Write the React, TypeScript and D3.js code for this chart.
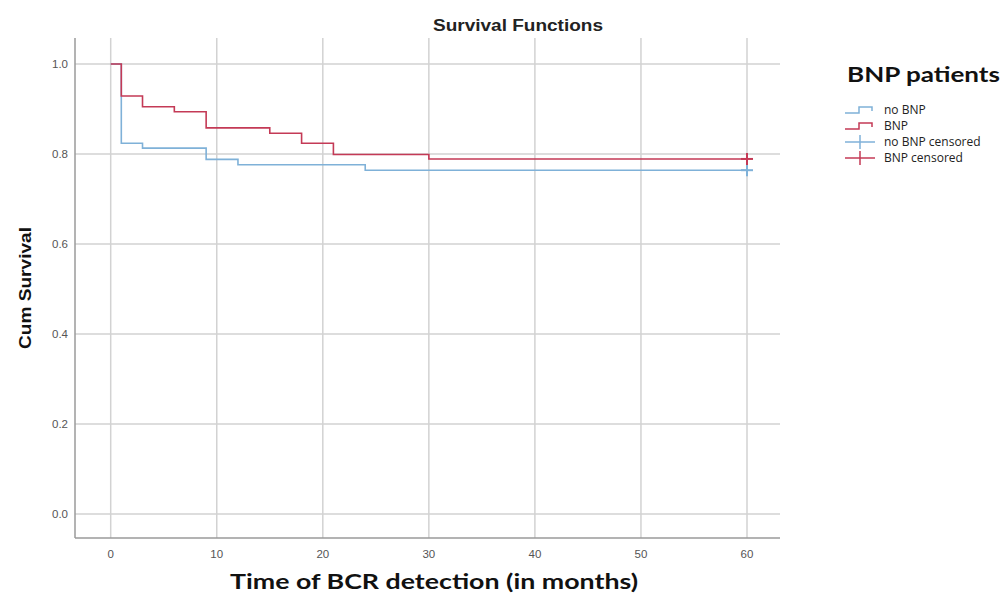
import React from "react";
import * as d3 from "d3";

// survival step data
const bnpTimes = [0, 1, 3, 6, 9, 15, 18, 21, 30, 60];
const bnpSurv = [1.0, 0.929, 0.905, 0.894, 0.858, 0.846, 0.824, 0.799, 0.789, 0.789];
const noBnpTimes = [0, 1, 3, 9, 12, 24, 60];
const noBnpSurv = [1.0, 0.824, 0.813, 0.788, 0.776, 0.764, 0.764];
const censorTimes = [60];
const xTicks = [0, 10, 20, 30, 40, 50, 60];
const yTicks = [0, 0.2, 0.4, 0.6, 0.8, 1.0];
const legendLabels = ["no BNP", "BNP", "no BNP censored", "BNP censored"];

const RED = "#c43a56";
const BLUE = "#7fb1d8";
const GRID = "#d2d2d2";
const AXIS = "#9a9a9a";

export default function App() {
  const width = 1003;
  const height = 596;
  const frame = { left: 75, right: 780, top: 38, bottom: 538 };

  const x = d3.scaleLinear().domain([0, 60]).range([110.7, 747]);
  const y = d3.scaleLinear().domain([0, 1]).range([514, 64]);

  const line = d3
    .line<[number, number]>()
    .x((d) => x(d[0]))
    .y((d) => y(d[1]))
    .curve(d3.curveStepAfter);

  const bnp = bnpTimes.map((t, i) => [t, bnpSurv[i]] as [number, number]);
  const noBnp = noBnpTimes.map((t, i) => [t, noBnpSurv[i]] as [number, number]);

  const censorAt = (times: number[], surv: number[], t: number) => {
    let v = surv[0];
    for (let i = 0; i < times.length; i++) if (times[i] <= t) v = surv[i];
    return v;
  };

  const plus = (cx: number, cy: number, color: string, key: string) => (
    <g key={key} stroke={color} strokeWidth={2}>
      <line x1={cx - 6} x2={cx + 6} y1={cy} y2={cy} />
      <line x1={cx} x2={cx} y1={cy - 6} y2={cy + 6} />
    </g>
  );

  const legendX = 845;
  const legendRows = [110, 126, 142, 158];
  const legendColors = [BLUE, RED, BLUE, RED];

  return (
    <svg
      width={width}
      height={height}
      style={{ position: "absolute", left: 0, top: 0, background: "#fff" }}
      fontFamily="'Liberation Sans', Arial, sans-serif"
    >
      <rect width={width} height={height} fill="#fff" />

      {/* grid */}
      {yTicks.map((t) => (
        <line key={"hy" + t} x1={frame.left} x2={frame.right} y1={y(t)} y2={y(t)} stroke={GRID} strokeWidth={1.5} />
      ))}
      {xTicks.map((t) => (
        <line key={"vx" + t} x1={x(t)} x2={x(t)} y1={frame.top} y2={frame.bottom} stroke={GRID} strokeWidth={1.5} />
      ))}

      {/* axes */}
      <line x1={frame.left} x2={frame.left} y1={frame.top} y2={frame.bottom} stroke={AXIS} strokeWidth={1.5} />
      <line x1={frame.left} x2={frame.right} y1={frame.bottom} y2={frame.bottom} stroke={AXIS} strokeWidth={1.5} />

      {xTicks.map((t) => (
        <text key={"xl" + t} x={x(t)} y={558} textAnchor="middle" fontSize={11.5} fill="#555">
          {t}
        </text>
      ))}
      {yTicks.map((t) => (
        <text key={"yl" + t} x={68} y={y(t) + 4} textAnchor="end" fontSize={11.5} fill="#555">
          {t.toFixed(1)}
        </text>
      ))}

      {/* curves */}
      <path d={line(noBnp) || ""} fill="none" stroke={BLUE} strokeWidth={1.6} />
      <path d={line(bnp) || ""} fill="none" stroke={RED} strokeWidth={1.6} />

      {censorTimes.map((t) => plus(x(t), y(censorAt(noBnpTimes, noBnpSurv, t)), BLUE, "cb" + t))}
      {censorTimes.map((t) => plus(x(t), y(censorAt(bnpTimes, bnpSurv, t)), RED, "cr" + t))}

      {/* titles */}
      <text
        x={518}
        y={31}
        textAnchor="middle"
        fontSize={16}
        fontWeight="bold"
        fill="#222"
        textLength={170}
        lengthAdjust="spacingAndGlyphs"
      >
        Survival Functions
      </text>
      <text
        transform="translate(31,288) rotate(-90)"
        textAnchor="middle"
        fontSize={17}
        fontWeight="bold"
        fill="#111"
        textLength={122}
        lengthAdjust="spacingAndGlyphs"
      >
        Cum Survival
      </text>
      <text
        x={434}
        y={589}
        textAnchor="middle"
        fontSize={21}
        fontWeight="bold"
        fill="#111"
        fontFamily="Lato, 'Open Sans', sans-serif"
        textLength={408}
        lengthAdjust="spacingAndGlyphs"
      >
        Time of BCR detection (in months)
      </text>

      {/* legend */}
      <text
        x={847}
        y={82}
        fontSize={20}
        fontWeight="bold"
        fill="#111"
        fontFamily="Lato, 'Open Sans', sans-serif"
        textLength={153}
        lengthAdjust="spacingAndGlyphs"
      >
        BNP patients
      </text>
      {legendLabels.map((lab, i) => {
        const ly = legendRows[i];
        const c = legendColors[i];
        return (
          <g key={lab}>
            {i < 2 ? (
              <path
                d={`M${legendX},${ly + 3} H${legendX + 14} V${ly - 3} H${legendX + 27} V${ly + 1}`}
                fill="none"
                stroke={c}
                strokeWidth={1.5}
              />
            ) : (
              <g stroke={c} strokeWidth={1.5}>
                <line x1={legendX} x2={legendX + 30} y1={ly} y2={ly} />
                <line x1={legendX + 15} x2={legendX + 15} y1={ly - 7} y2={ly + 7} />
              </g>
            )}
            <text
              x={884}
              y={ly + 4}
              fontSize={12}
              fill="#222"
              fontFamily="'Open Sans', sans-serif"
            >
              {lab}
            </text>
          </g>
        );
      })}
    </svg>
  );
}
